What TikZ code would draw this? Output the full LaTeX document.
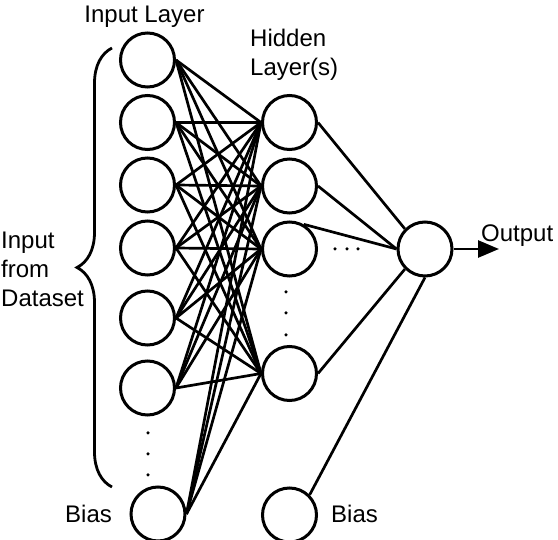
\documentclass[tikz,border=0pt]{standalone}
\usepackage{fontspec}
\setmainfont{Liberation Sans}
\usetikzlibrary{decorations.pathreplacing,arrows.meta}
\begin{document}
\begin{tikzpicture}[x=1pt,y=-1pt,
  neuron/.style={circle,draw,line width=3pt,minimum size=54pt,inner sep=0pt},
  edge/.style={line width=2.7pt},
  lbl/.style={font=\fontsize{24}{28}\selectfont,inner sep=0pt},
  dotmark/.style={circle,fill,inner sep=0pt,minimum size=3.5pt}]
\useasboundingbox (0,0) rectangle (558,540);
% input layer
\node[neuron] (i1) at (147.5,60) {};
\node[neuron] (i2) at (147.5,122.5) {};
\node[neuron] (i3) at (147.5,185) {};
\node[neuron] (i4) at (147.5,248) {};
\node[neuron] (i5) at (147.5,318) {};
\node[neuron] (i6) at (147.5,388) {};
\node[neuron] (ib) at (158,514) {};
% hidden layer
\node[neuron] (h1) at (289.5,122.5) {};
\node[neuron] (h2) at (289.5,186) {};
\node[neuron] (h3) at (289.5,249) {};
\node[neuron] (h4) at (289.5,373.5) {};
\node[neuron] (hb) at (289.5,515) {};
% output
\node[neuron] (o) at (425,249) {};
% input -> hidden
\foreach \i in {i1,i2,i3,i4,i5,i6,ib}
  \foreach \h in {h1,h2,h3,h4}
    \draw[edge] (\i.east) -- (\h.west);
% hidden -> output
\draw[edge] (h1.east) -- (o.north west);
\draw[edge] (h2.east) -- (o.west);
\draw[edge] (h3.60) -- (o.west);
\draw[edge] (h4.east) -- (o.south west);
\draw[edge] (hb.north east) -- (o.south);
% output arrow
\coordinate (oe) at (499,249);
\draw[edge,-{Triangle[length=21pt,width=17pt]}] (o.east) -- (oe);
% dots
\node[dotmark] (d1) at (148,433) {};
\node[dotmark] (d2) at (148,454) {};
\node[dotmark] (d3) at (148,475) {};
\node[dotmark] (e1) at (286,292) {};
\node[dotmark] (e2) at (286,313) {};
\node[dotmark] (e3) at (286,335) {};
\node[dotmark] (f1) at (335,249) {};
\node[dotmark] (f2) at (347,249) {};
\node[dotmark] (f3) at (358,249) {};
% brace
\coordinate (bb) at (112,487);
\coordinate (bt) at (112,48);
\draw[line width=2.8pt,decorate,decoration={brace,amplitude=35pt}] (bb) -- (bt);
% labels
\node[lbl,anchor=base] (tin) at (144.5,23) {Input Layer};
\node[lbl,anchor=base west] (thid) at (250,47) {Hidden};
\node[lbl,anchor=base west] (tlay) at (250,76) {Layer(s)};
\node[lbl,anchor=base west] (ta) at (1,249) {Input};
\node[lbl,anchor=base west] (tb) at (1,278) {from};
\node[lbl,anchor=base west] (tc) at (1,307) {Dataset};
\node[lbl,anchor=base west] (tbias1) at (65,523) {Bias};
\node[lbl,anchor=base west] (tbias2) at (331,523) {Bias};
\node[lbl,anchor=base west] (tout) at (481,242) {Output};
\end{tikzpicture}
\end{document}
